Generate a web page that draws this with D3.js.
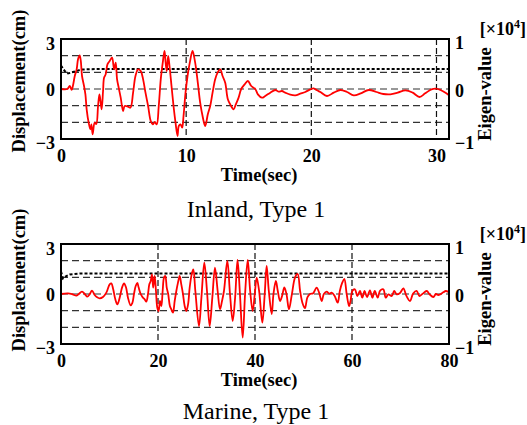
<!DOCTYPE html>
<html>
<head>
<meta charset="utf-8">
<script src="https://cdn.jsdelivr.net/npm/d3@7"></script>
<style>
  html, body { margin: 0; padding: 0; background: #fff; }
  svg { display: block; font-family: "Liberation Serif", "Times New Roman", serif; }
</style>
</head>
<body>
<svg id="chart" width="527" height="425"></svg>
<script>
// ---- Inland, Type 1: displacement history (cm) ----
const inlandTime = [0,0.5,0.7,0.85,0.95,1.1,1.25,1.36,1.49,1.58,1.68,1.84,1.95,2.05,2.21,2.35,2.43,2.53,2.69,2.82,2.96,3.07,3.17,3.25,3.36,3.44,3.57,3.71,3.89,4.08,4.24,4.37,4.48,4.61,4.77,4.96,5.09,5.36,5.55,5.76,5.95,6.16,6.37,6.56,6.75,6.96,7.17,7.33,7.49,7.65,7.81,7.97,8.13,8.27,8.36,8.45,8.56,8.67,8.83,8.99,9.15,9.31,9.41,9.55,9.68,9.79,9.95,10.11,10.29,10.51,10.72,10.93,11.12,11.31,11.52,11.73,11.92,12.11,12.32,12.51,12.72,12.91,13.12,13.33,13.52,13.79,13.97,14.19,14.4,14.67,14.93,15.2,15.52,15.73,16.05,16.32,16.72,17.12,17.4,17.65,17.92,18.32,18.72,19.12,19.52,19.92,20.19,20.45,20.72,21.25,21.79,22.32,22.85,23.39,23.95,24.59,25.2,25.75,26.32,26.9,27.52,28.1,28.64,29.1,29.6,29.97,30.32,30.72,31.0];
const inlandDisp = [0,0,0.18,-0.05,0.18,0.78,1.18,1.78,2.02,1.7,0.78,0.18,-0.32,-1.22,-2.02,-2.42,-2.12,-2.72,-2.02,-2.1,-1.02,-0.32,-0.8,-1.22,-0.12,0.68,0.88,1.48,1.68,1.88,1.18,1.58,0.58,0.08,-0.52,-1.32,-1.02,-1.06,-1.12,-0.22,0.78,1.18,1.08,0.58,-0.22,-1.02,-1.92,-2.12,-1.98,-2.12,-1.02,0.58,1.58,2.28,1.58,1.08,1.98,1.38,0.18,-1.02,-2.02,-2.82,-2.22,-2.12,-2.32,-1.62,-0.22,0.78,1.58,2.28,1.58,0.38,-0.82,-1.62,-2.22,-1.52,-1.02,-0.22,0.58,0.98,1.18,0.78,0.38,-0.62,-0.92,-1.22,-0.92,-0.52,0,0.28,0.48,0.18,0,-0.32,-0.52,-0.42,-0.22,-0.06,-0.16,-0.12,-0.22,-0.34,-0.38,-0.28,-0.18,-0.02,0.04,-0.08,-0.18,-0.42,-0.22,-0.06,-0.18,-0.38,-0.26,-0.06,-0.18,-0.3,-0.32,-0.22,-0.08,-0.22,-0.48,-0.26,-0.02,0.02,-0.06,-0.22,-0.38];
// eigen-value history (x10^4)
const inlandEigenTime = [0,0.3,0.56,0.96,1.63,3,31];
const inlandEigen = [0.47,0.36,0.31,0.34,0.39,0.4,0.4];

// ---- Marine, Type 1: displacement history (cm) ----
const marineTime = [0,1.44,2.4,3.16,3.6,4.33,4.9,5.43,5.9,6.39,6.94,7.45,7.97,8.66,9.35,10.03,10.38,10.75,11.2,11.62,12.1,12.58,13.0,13.4,13.81,14.36,14.7,15.05,15.4,15.74,16.0,16.43,16.85,17.25,17.6,17.94,18.21,18.49,18.76,19.0,19.31,19.58,19.86,20.14,20.4,20.69,20.96,21.24,21.51,21.8,22.1,22.45,22.75,23.09,23.44,23.78,24.12,24.47,24.8,25.15,25.5,25.84,26.2,26.53,26.94,27.28,27.7,28.45,28.95,29.55,30.1,30.65,31.2,31.75,32.3,32.78,33.2,33.6,34.3,34.85,35.4,35.9,36.4,36.9,37.46,37.95,38.5,39.0,39.52,39.95,40.35,40.85,41.51,42.0,42.4,42.85,43.45,43.8,44.3,44.7,45.16,45.6,46.05,46.5,47.0,47.6,48.25,48.8,49.3,49.8,50.3,50.8,51.34,52.0,52.7,53.2,53.75,54.2,54.77,55.3,55.8,56.4,57.05,57.5,57.99,58.42,58.9,59.4,59.7,60.07,60.6,61.1,61.64,62.13,62.6,63.1,63.7,64.2,64.7,65.29,65.8,66.46,66.95,67.5,68.2,68.7,69.2,69.9,70.59,71.2,71.96,72.6,73.33,73.9,74.5,75.4,76.0,76.77,77.3,77.8,78.83,79.31,80];
const marineDisp = [0,0.04,-0.02,-0.1,-0.02,0.14,0,-0.16,-0.02,0.2,-0.06,-0.2,-0.26,-0.18,0.08,0.58,0.64,0.3,-0.32,-0.62,-0.22,0.38,0.64,0.4,-0.22,-0.68,-0.55,0,0.48,0.66,0.4,0,-0.2,-0.32,-0.46,0,0.58,0.78,1.18,0.38,1.08,0.18,-0.82,-1.02,-0.42,-0.72,0.18,0.98,1.08,0.38,0,-0.72,-0.92,-1.12,-0.42,0.18,0.68,1.08,0.58,0,-0.72,-1.02,-0.62,0.38,1.18,1.48,0.18,-1.92,-0.22,1.88,0.18,-1.92,-0.22,1.58,0.18,-0.92,-0.42,0.18,1.98,-0.02,-1.62,-0.22,2.04,-0.02,-2.62,-0.02,2.04,0.18,-1.02,-0.02,0.98,0.18,-1.72,-0.02,1.68,0.18,-1.2,-0.02,0.78,0.18,-0.42,-0.1,0.4,-0.02,-0.92,-0.02,0.98,1.2,0.18,-0.55,-0.85,-0.2,0,0.05,0.38,0.1,-0.42,0,0.14,0.02,0.08,-0.1,-0.52,0.2,0.68,0.9,0,-0.72,-0.42,0.18,0.28,-0.12,0.18,-0.22,0.18,-0.18,0.22,-0.22,0.18,-0.22,0.2,0.28,-0.22,-0.02,-0.12,0.18,-0.02,0.06,0.34,-0.1,-0.42,0.02,0.18,-0.12,0,0.18,-0.02,-0.18,0,-0.06,0.1,0.18,0.1];
// eigen-value history (x10^4)
const marineEigenTime = [0,0.4,1.1,1.8,4,80];
const marineEigen = [0.45,0.31,0.36,0.39,0.41,0.41];

// ---- axes and labels ----
const inlandTimeTicks = [0,10,20,30];
const marineTimeTicks = [0,20,40,60,80];
const dispTicks = [-3,0,3];
const eigenTicks = [-1,0,1];
const gridLevels = [-2,-1,0,1,2];
const panelTitles = ["Inland, Type 1", "Marine, Type 1"];

const svg = d3.select("#chart");
const plotLeft = 61, plotRight = 449, plotH = 100;
const boldFont = "bold";
const tickFont = 18;

function drawPanel(opts) {
  const top = opts.top, bottom = top + plotH;
  const x = d3.scaleLinear().domain([0, opts.tMax]).range([plotLeft, plotRight]);
  const y = d3.scaleLinear().domain([-3, 3]).range([bottom, top]);
  const yEig = d3.scaleLinear().domain([-1, 1]).range([bottom, top]);
  const g = svg.append("g");

  // dashed horizontal reference lines
  g.selectAll("line.hgrid").data(gridLevels).join("line")
    .attr("class", "hgrid")
    .attr("x1", plotLeft).attr("x2", plotRight)
    .attr("y1", d => y(d)).attr("y2", d => y(d))
    .attr("stroke", "#333").attr("stroke-width", 1.2)
    .attr("stroke-dasharray", "7,4");

  // dashed vertical lines at interior time ticks
  g.selectAll("line.vgrid").data(opts.ticks.filter(t => t > 0 && t < opts.tMax)).join("line")
    .attr("class", "vgrid")
    .attr("x1", d => x(d)).attr("x2", d => x(d))
    .attr("y1", top).attr("y2", bottom)
    .attr("stroke", "#111").attr("stroke-width", 1.2)
    .attr("stroke-dasharray", "6,3");

  // eigen-value trace (right axis)
  const eigLine = d3.line().x(d => x(d[0])).y(d => yEig(d[1]));
  g.append("path")
    .datum(d3.zip(opts.eTime, opts.eigen))
    .attr("d", eigLine)
    .attr("fill", "none").attr("stroke", "#000")
    .attr("stroke-width", 2).attr("stroke-dasharray", "3,2");

  // displacement trace (left axis)
  const dispLine = d3.line().x(d => x(d[0])).y(d => y(d[1]))
    .curve(d3.curveCatmullRom.alpha(0.5));
  g.append("path")
    .datum(d3.zip(opts.time, opts.disp))
    .attr("d", dispLine)
    .attr("fill", "none").attr("stroke", "#ff0000")
    .attr("stroke-width", 1.8).attr("stroke-linejoin", "round");

  // frame
  g.append("rect")
    .attr("x", plotLeft).attr("y", top)
    .attr("width", plotRight - plotLeft).attr("height", plotH)
    .attr("fill", "none").attr("stroke", "#000").attr("stroke-width", 2);

  // bottom time axis
  const ax = g.append("g").attr("transform", `translate(0,${bottom})`)
    .call(d3.axisBottom(x).tickValues(opts.ticks).tickSize(0).tickPadding(10).tickFormat(d3.format("d")));
  ax.select(".domain").remove();
  ax.selectAll("text").attr("font-size", tickFont).attr("font-weight", boldFont)
    .attr("font-family", "Liberation Serif").attr("fill", "#000");

  // left displacement axis
  const ay = g.append("g").attr("transform", `translate(${plotLeft},0)`)
    .call(d3.axisLeft(y).tickValues(dispTicks).tickSize(0).tickPadding(6).tickFormat(d3.format("d")));
  ay.select(".domain").remove();
  ay.selectAll("text").attr("font-size", tickFont).attr("font-weight", boldFont)
    .attr("font-family", "Liberation Serif").attr("fill", "#000")
    .attr("dy", d => d > 0 ? "0.6em" : d < 0 ? "0.5em" : "0.36em");

  // right eigen-value axis
  const ar = g.append("g").attr("transform", `translate(${plotRight},0)`)
    .call(d3.axisRight(yEig).tickValues(eigenTicks).tickSize(0).tickPadding(6).tickFormat(d3.format("d")));
  ar.select(".domain").remove();
  ar.selectAll("text").attr("font-size", tickFont).attr("font-weight", boldFont)
    .attr("font-family", "Liberation Serif").attr("fill", "#000")
    .attr("dy", d => d > 0 ? "0.54em" : d < 0 ? "0.5em" : "0.44em");

  // axis titles
  g.append("text")
    .attr("x", 259).attr("y", bottom + 42)
    .attr("text-anchor", "middle").attr("font-size", 18.5).attr("font-weight", boldFont)
    .text("Time(sec)");

  g.append("text")
    .attr("transform", `translate(25,${opts.dispLabelY}) rotate(-90)`)
    .attr("text-anchor", "middle").attr("font-size", 18.5).attr("font-weight", boldFont)
    .text("Displacement(cm)");

  g.append("text")
    .attr("transform", `translate(491,${top + plotH / 2 + 5}) rotate(-90)`)
    .attr("text-anchor", "middle").attr("font-size", 18.5).attr("font-weight", boldFont)
    .text("Eigen-value");

  // exponent marker for the right axis
  const ex = g.append("text")
    .attr("x", 526).attr("y", top - 4)
    .attr("text-anchor", "end").attr("font-size", 18).attr("font-weight", boldFont);
  ex.append("tspan").text("[\u00d710");
  ex.append("tspan").attr("font-size", 12).attr("dy", -7).text("4");
  ex.append("tspan").attr("dy", 7).text("]");

  // panel caption
  svg.append("text")
    .attr("x", 256).attr("y", opts.titleY)
    .attr("text-anchor", "middle").attr("font-size", 24)
    .text(opts.title);
}

drawPanel({
  top: 39, tMax: 31, ticks: inlandTimeTicks,
  time: inlandTime, disp: inlandDisp,
  eTime: inlandEigenTime, eigen: inlandEigen,
  title: panelTitles[0], titleY: 217, dispLabelY: 81
});

drawPanel({
  top: 244, tMax: 80, ticks: marineTimeTicks,
  time: marineTime, disp: marineDisp,
  eTime: marineEigenTime, eigen: marineEigen,
  title: panelTitles[1], titleY: 419, dispLabelY: 280
});
</script>
</body>
</html>
